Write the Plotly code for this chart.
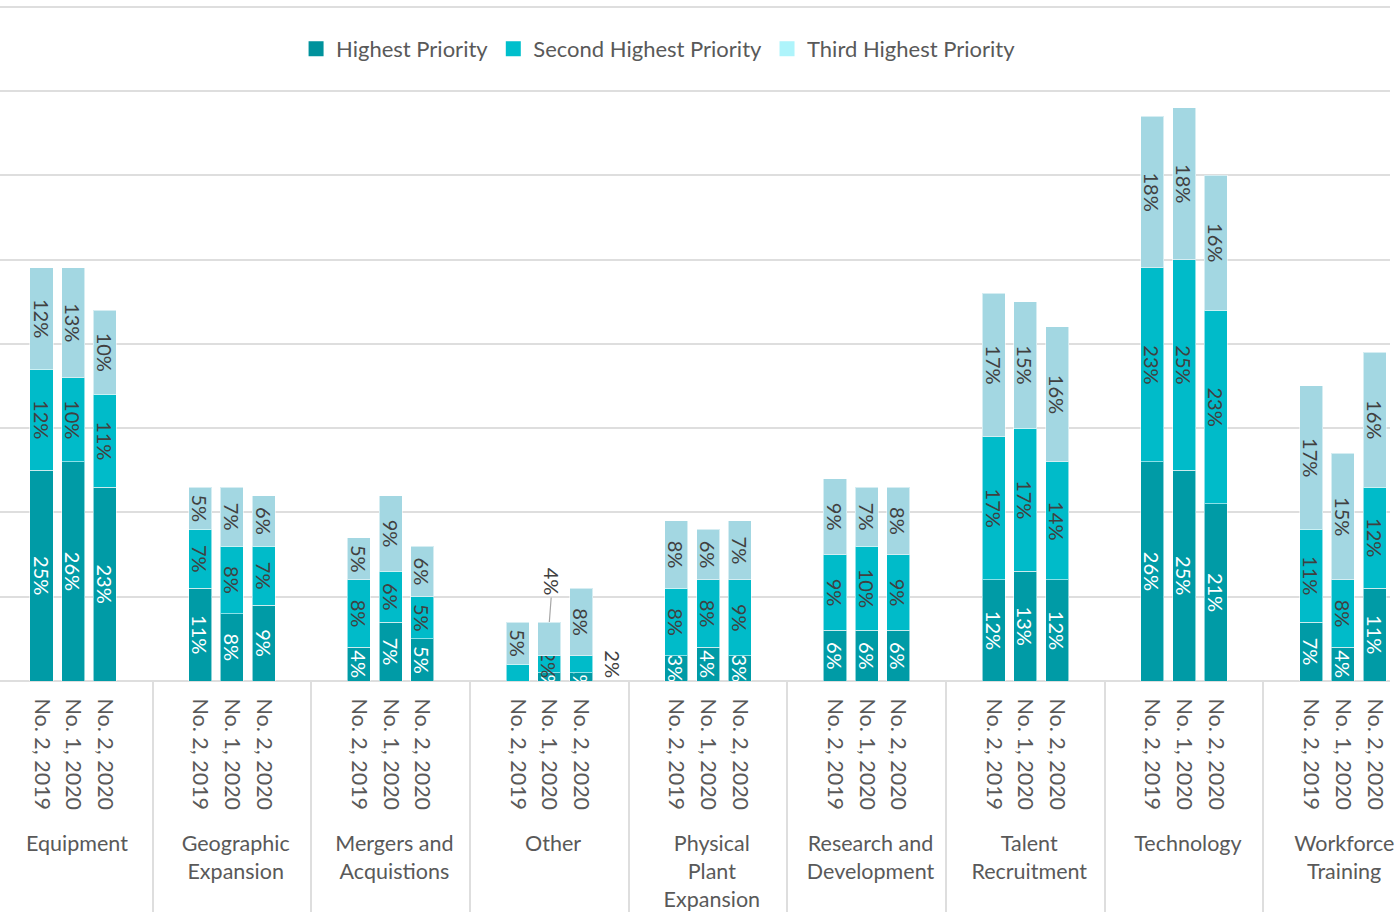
import plotly.graph_objects as go

# Investment priority categories (line breaks used in the axis labels)
categories = [
    "Equipment",
    "Geographic<br>Expansion",
    "Mergers and<br>Acquistions",
    "Other",
    "Physical<br>Plant<br>Expansion",
    "Research and<br>Development",
    "Talent<br>Recruitment",
    "Technology",
    "\u00a0" * 5 + "Workforce<br>" + "\u00a0" * 5 + "Training",
]
surveys = ["No. 2, 2019", "No. 1, 2020", "No. 2, 2020"]

# Share of respondents (%) per category, one value per survey
highest = [
    [25, 26, 23], [11, 8, 9], [4, 7, 5], [0, 1, 1], [3, 4, 3],
    [6, 6, 6], [12, 13, 12], [26, 25, 21], [7, 4, 11],
]
second = [
    [12, 10, 11], [7, 8, 7], [8, 6, 5], [2, 2, 2], [8, 8, 9],
    [9, 10, 9], [17, 17, 14], [23, 25, 23], [11, 8, 12],
]
third = [
    [12, 13, 10], [5, 7, 6], [5, 9, 6], [5, 4, 8], [8, 6, 7],
    [9, 7, 8], [17, 15, 16], [18, 18, 16], [17, 15, 16],
]

series_names = ["Highest Priority", "Second Highest Priority", "Third Highest Priority"]
bar_colors = ["#009BA6", "#00BBC9", "#A3D7E2"]
legend_colors = ["#00929C", "#00BFCC", "#AEF4FB"]
label_colors = ["white", "#404040", "#404040"]

FONT = "Lato"
GRAY = "#595959"
GRID = "#DEDEDE"

# Each category gets an empty slot on both sides of its three survey bars;
# the survey labels get a small lead-in so they sit below the baseline.
lead = "\u00a0" * 3
slot_labels = [" "] + [lead + s for s in surveys] + ["  "]
x_outer, x_inner = [], []
for c in categories:
    for s in slot_labels:
        x_outer.append(c)
        x_inner.append(s)


def flatten(values):
    out = []
    for row in values:
        out += [None] + list(row) + [None]
    return out


def slot_index(cat_idx, survey_idx):
    return cat_idx * len(slot_labels) + survey_idx + 1


other = 3
# labels of the tiny "Other" segments that are placed outside the bars
moved = {
    2: [slot_index(other, 1)],
    1: [slot_index(other, 2), slot_index(other, 0)],
}

fig = go.Figure()
for k, (name, vals) in enumerate(zip(series_names, [highest, second, third])):
    y = flatten(vals)
    positions = ["inside"] * len(y)
    for idx in moved.get(k, []):
        positions[idx] = "none"
    fig.add_trace(go.Bar(
        x=[x_outer, x_inner],
        y=y,
        name=name,
        showlegend=False,
        marker=dict(color=bar_colors[k], line=dict(color="rgba(255,255,255,0.55)", width=1)),
        texttemplate="%{y}%",
        textposition=positions,
        insidetextanchor="middle",
        textangle=90,
        insidetextfont=dict(family=FONT, size=20, color=label_colors[k]),
        cliponaxis=True,
    ))

# Legend entries (square swatches)
for name, col in zip(series_names, legend_colors):
    fig.add_trace(go.Scatter(
        x=[[categories[0]], [slot_labels[0]]],
        y=[None],
        name=name,
        mode="markers",
        marker=dict(color=col, symbol="square", size=15),
        showlegend=True,
        hoverinfo="skip",
    ))

# Outside labels for the small "Other" segments
i_mid = slot_index(other, 1)
fig.add_annotation(
    x=i_mid, y=highest[other][1] + second[other][1] + third[other][1],
    text=f"{third[other][1]}%", textangle=90, showarrow=True, arrowhead=0,
    arrowwidth=1.2, arrowcolor="#A6A6A6", ax=3, ay=-40, standoff=0,
    font=dict(family=FONT, size=20, color="#404040"),
)
i_last = slot_index(other, 2)
fig.add_annotation(
    x=i_last + 1, y=highest[other][2] + second[other][2] / 2,
    text=f"{second[other][2]}%", textangle=90, showarrow=False,
    font=dict(family=FONT, size=20, color="#404040"),
)

fig.update_layout(
    width=1397, height=916,
    margin=dict(l=0, r=7, t=5, b=235),
    paper_bgcolor="white", plot_bgcolor="white",
    barmode="stack", bargap=0.275,
    font=dict(family=FONT, size=22, color=GRAY),
    uniformtext=dict(minsize=20, mode="show"),
    legend=dict(
        orientation="h", x=0.213, xanchor="left", y=0.935, yanchor="middle",
        bgcolor="rgba(0,0,0,0)", font=dict(family=FONT, size=22, color=GRAY),
        traceorder="normal",
    ),
    xaxis=dict(
        type="multicategory",
        range=[-0.3075, 43.486],
        tickangle=90,
        tickfont=dict(family=FONT, size=21.5, color=GRAY),
        ticks="",
        showdividers=True, dividercolor=GRID, dividerwidth=2,
        showgrid=False, showline=False, zeroline=False,
    ),
    yaxis=dict(
        range=[0, 80.2], dtick=10, showticklabels=False,
        showgrid=True, gridcolor=GRID, gridwidth=2,
        zeroline=True, zerolinecolor=GRID, zerolinewidth=2,
        showline=False, ticks="",
    ),
)

fig.write_html("out.html")
